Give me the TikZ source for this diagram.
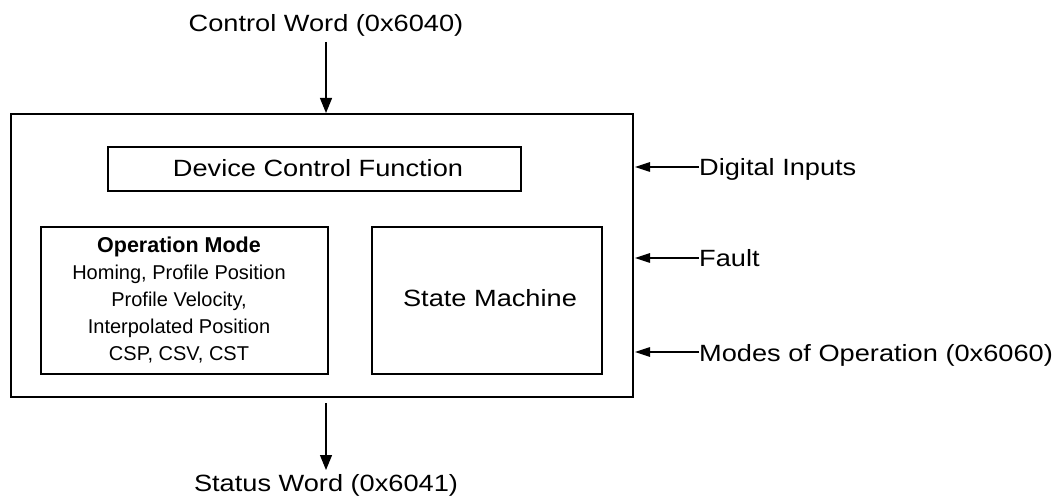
\documentclass[tikz,border=0pt]{standalone}
\usepackage{fontspec}
\setmainfont{Liberation Sans}
\newfontfamily\widefont[FakeStretch=1.157]{Liberation Sans}
\usetikzlibrary{arrows.meta}
\tikzset{
  box/.style={draw, line width=2pt},
  varr/.style={-{Triangle[length=15pt,width=12pt]}, line width=1.2pt},
  harr/.style={-{Triangle[length=15pt,width=9.5pt]}, line width=1.2pt},
  lbl/.style={font=\widefont\fontsize{23.5}{28}\selectfont, inner sep=0pt},
}
\begin{document}
\begin{tikzpicture}[x=1pt,y=-1pt]
\useasboundingbox (0,0) rectangle (1059,502);
\node[box, minimum width=622pt, minimum height=283pt, anchor=north west, inner sep=0pt] (outer) at (10,113) {};
\coordinate (outerTop) at (326,113);
\coordinate (outerBot) at (326,397);
\node[box, minimum width=413pt, minimum height=44pt, anchor=north west] (dcf) at (107,146) {};
\node[lbl, anchor=base] (dcft) at (318,177) {Device Control Function};
\node[box, minimum width=287pt, minimum height=147pt, anchor=north west] (om) at (40,226) {};
\node[align=center, font=\fontsize{20}{27}\selectfont, inner sep=0pt] (omt) at (179,300) {{\fontsize{21.5}{27}\selectfont\bfseries Operation Mode}\\Homing, Profile Position\\Profile Velocity,\\Interpolated Position\\CSP, CSV, CST};
\node[box, minimum width=230pt, minimum height=147pt, anchor=north west] (sm) at (371,226) {};
\node[lbl, anchor=base] (smt) at (490,307) {State Machine};
\node[lbl, anchor=base] (cw) at (326,32) {Control Word (0x6040)};
\node[lbl, anchor=base] (sw) at (326,491) {Status Word (0x6041)};
\node[lbl, anchor=base west] (di) at (699,176) {Digital Inputs};
\node[lbl, anchor=base west] (fa) at (699,267) {Fault};
\node[lbl, anchor=base west] (mo) at (699,361) {Modes of Operation (0x6060)};
\coordinate (cwS) at (326,42);
\coordinate (swS) at (326,403);
\coordinate (swE) at (326,470);
\coordinate (diS) at (699,167);
\coordinate (faS) at (699,258);
\coordinate (moS) at (699,352);
\coordinate (diE) at (635,167);
\coordinate (faE) at (635,258);
\coordinate (moE) at (635,352);
\draw[varr] (cwS) -- (outerTop);
\draw[varr] (swS) -- (swE);
\draw[harr] (diS) -- (diE);
\draw[harr] (faS) -- (faE);
\draw[harr] (moS) -- (moE);
\end{tikzpicture}
\end{document}
